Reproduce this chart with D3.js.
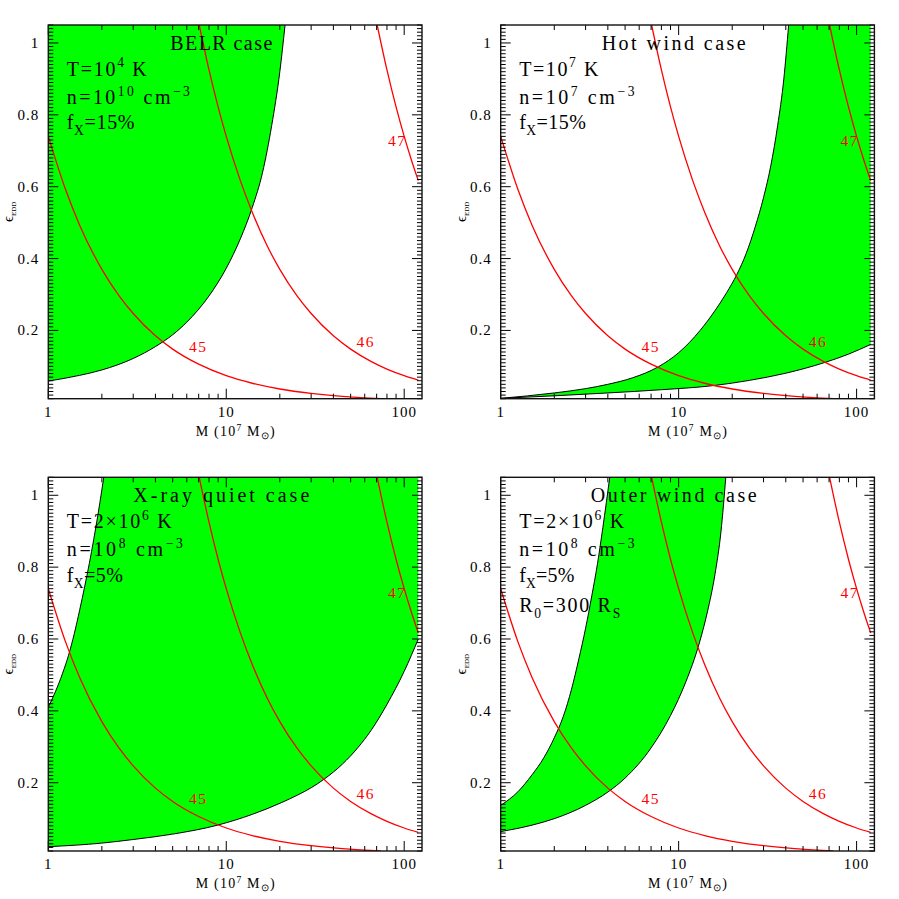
<!DOCTYPE html>
<html><head><meta charset="utf-8">
<script src="https://cdn.jsdelivr.net/npm/d3@7"></script>
<style>body{margin:0;background:#fff}svg{display:block}</style>
</head><body><svg id="c" width="899" height="899"></svg>
<script>
// ---------- data ----------
const massDomain = [1, 125.9];          // M (10^7 Msun)
const eddDomain = [0.01, 1.05];         // epsilon_EDD
const xMajorTicks = [1, 10, 100];
const xTickLabels = ["1", "10", "100"];
const yMajorTicks = [0.2, 0.4, 0.6, 0.8, 1.0];
const yTickLabels = ["0.2", "0.4", "0.6", "0.8", "1"];

const panelTitles = ["BELR case", "Hot wind case", "X-ray quiet case", "Outer wind case"];
// segments: [text, kind] kind: "" normal, "sup", "sub"
const panelInfo = [
  [[["T=10",""],["4","sup"],[" K",""]],
   [["n=10",""],["10","sup"],[" cm",""],["\u22123","sup"]],
   [["f",""],["X","sub"],["=15%",""]]],
  [[["T=10",""],["7","sup"],[" K",""]],
   [["n=10",""],["7","sup"],[" cm",""],["\u22123","sup"]],
   [["f",""],["X","sub"],["=15%",""]]],
  [[["T=2\u00d710",""],["6","sup"],[" K",""]],
   [["n=10",""],["8","sup"],[" cm",""],["\u22123","sup"]],
   [["f",""],["X","sub"],["=5%",""]]],
  [[["T=2\u00d710",""],["6","sup"],[" K",""]],
   [["n=10",""],["8","sup"],[" cm",""],["\u22123","sup"]],
   [["f",""],["X","sub"],["=5%",""]],
   [["R",""],["0","sub"],["=300 R",""],["S","sub"]]]
];

// constant-luminosity curves, log L = 45, 46, 47
const lumNames = ["45", "46", "47"];
const lum45 = [[1,0.74],[1.25,0.592],[1.5,0.493],[2,0.37],[2.5,0.296],[3,0.247],[4,0.185],[5,0.148],[7,0.106],[10,0.074],[14,0.053],[20,0.037],[30,0.0247],[45,0.0164],[60,0.0123],[74,0.01]];
const lum46 = [[7.05,1.05],[8,0.925],[9,0.822],[10,0.74],[12,0.617],[14,0.529],[17,0.435],[20,0.37],[25,0.296],[30,0.247],[40,0.185],[50,0.148],[65,0.114],[80,0.0925],[100,0.074],[120,0.0617]];
const lum47 = [[70.5,1.05],[80,0.925],[90,0.822],[100,0.74],[110,0.673],[120,0.617]];
const lumLabelAt = [[6.9,0.155],[60.2,0.169],[90.6,0.727]];

// allowed-region boundaries
const belrEdge = [[1,0.059],[1.5,0.075],[2,0.09],[3,0.122],[4,0.155],[5,0.188],[6,0.223],[8,0.296],[10,0.373],[12,0.455],[14,0.542],[16,0.64],[18,0.77],[20,0.92],[21.4,1.05]];
const hotUpper = [[1,0.011],[2,0.026],[3,0.038],[4,0.05],[5.5,0.068],[7.7,0.099],[10,0.138],[13.2,0.2],[16,0.255],[18.6,0.305],[21.2,0.355],[24,0.415],[27,0.49],[30,0.57],[33,0.66],[36,0.77],[39,0.9],[41.5,1.05]];
const hotLower = [[1,0.011],[2,0.018],[4,0.026],[8,0.035],[16,0.047],[25,0.061],[40,0.081],[66.4,0.111],[90,0.134],[120,0.161]];
const xrayLeft = [[1,0.41],[1.1,0.455],[1.2,0.503],[1.3,0.555],[1.4,0.615],[1.5,0.68],[1.6,0.745],[1.7,0.81],[1.8,0.877],[1.9,0.945],[2.0,1.015],[2.05,1.05]];
const xrayLower = [[1,0.022],[2,0.032],[3,0.042],[5,0.057],[8.94,0.082],[14,0.112],[20.5,0.145],[25,0.165],[30,0.186],[35.5,0.21],[45,0.252],[55,0.298],[65,0.345],[80,0.418],[100,0.51],[120,0.6]];
const outerLeft = [[1,0.137],[1.25,0.175],[1.5,0.222],[1.75,0.27],[2,0.325],[2.25,0.385],[2.5,0.46],[2.75,0.545],[3,0.63],[3.25,0.72],[3.5,0.81],[3.75,0.91],[4.1,1.05]];
const outerRight = [[1,0.064],[1.5,0.082],[2,0.1],[3,0.137],[4,0.174],[5,0.213],[7,0.297],[9,0.387],[11,0.482],[13,0.585],[14.5,0.675],[16,0.78],[17.3,0.9],[18.4,1.05]];

// ---------- layout ----------
const W = 373.7, H = 373.7;
const origins = [[48.3,25],[500.7,25],[48.3,477.3],[500.7,477.3]];
const titleLen = [102,144,176,166];
const infoLen = [[80,123,67.7],[79.3,115.3,66.7],[105,116,56],[105,115.3,55.3,101]];
const SERIF = "'Liberation Serif','Times New Roman',serif";
const GREEN = "#00ff00", RED = "#ff0000";

const svg = d3.select("#c");

function drawRich(g, segs, x, y, size, len) {
  const t = g.append("text").attr("x", x).attr("y", y)
    .attr("font-family", SERIF).attr("font-size", size).attr("fill", "#000");
  let shift = 0;
  segs.forEach(([s, k]) => {
    const sp = t.append("tspan").text(s);
    let target = 0;
    if (k === "sup") { target = -0.42*size; sp.attr("font-size", size*0.68); }
    if (k === "sub") { target = 0.3*size; sp.attr("font-size", size*0.68); }
    sp.attr("dy", target - shift); shift = target;
  });
  if (len) t.attr("textLength", len).attr("lengthAdjust", "spacing");
  return t;
}

origins.forEach(([ox, oy], p) => {
  const g = svg.append("g").attr("transform", `translate(${ox},${oy})`);
  const x = d3.scaleLog().domain(massDomain).range([0, W]);
  const y = d3.scaleLinear().domain(eddDomain).range([H, 0]);
  const clipId = "clip" + p;
  g.append("clipPath").attr("id", clipId).append("rect").attr("width", W).attr("height", H);
  const plot = g.append("g").attr("clip-path", `url(#${clipId})`);

  const line = d3.line().x(d => x(d[0])).y(d => y(d[1])).curve(d3.curveMonotoneX);
  const rev = pts => line(pts.slice().reverse()).replace(/^M/, "L");
  const P = (m, e) => `L${x(m)},${y(e)}`;
  const top = eddDomain[1], xr = 120;

  // green allowed region
  let fillD, edges;
  if (p === 0) {
    fillD = line(belrEdge) + P(1, top) + "Z"; edges = [belrEdge];
  } else if (p === 1) {
    fillD = line(hotUpper) + P(xr, top) + P(xr, hotLower[hotLower.length-1][1]) + rev(hotLower) + "Z";
    edges = [hotUpper, hotLower];
  } else if (p === 2) {
    fillD = line(xrayLeft) + P(xr, top) + P(xr, xrayLower[xrayLower.length-1][1]) + rev(xrayLower) + "Z";
    edges = [xrayLeft, xrayLower];
  } else {
    fillD = line(outerLeft) + P(outerRight[outerRight.length-1][0], top) + rev(outerRight) + "Z";
    edges = [outerLeft, outerRight];
  }
  plot.append("path").attr("d", fillD).attr("fill", GREEN).attr("stroke", "none");
  edges.forEach(e => plot.append("path").attr("d", line(e)).attr("fill", "none")
    .attr("stroke", "#000").attr("stroke-width", 1));

  // luminosity curves
  [lum45, lum46, lum47].forEach(c => plot.append("path").attr("d", line(c))
    .attr("fill", "none").attr("stroke", RED).attr("stroke-width", 1.3));
  lumNames.forEach((n, i) => g.append("text").attr("x", x(lumLabelAt[i][0])).attr("y", y(lumLabelAt[i][1]) + 5)
    .attr("text-anchor", "middle").attr("font-family", SERIF).attr("font-size", 15.5)
    .attr("fill", RED).attr("textLength", 17).attr("lengthAdjust", "spacing").text(n));

  // ticks
  const tk = g.append("g").attr("stroke", "#000").attr("stroke-width", 1);
  const xMinor = [];
  [1, 10, 100].forEach(d => { for (let k = 2; k <= 9; k++) if (d*k <= massDomain[1]) xMinor.push(d*k); });
  xMajorTicks.forEach(v => {
    tk.append("line").attr("x1", x(v)).attr("x2", x(v)).attr("y1", H).attr("y2", H-10);
    tk.append("line").attr("x1", x(v)).attr("x2", x(v)).attr("y1", 0).attr("y2", 10);
  });
  xMinor.forEach(v => {
    tk.append("line").attr("x1", x(v)).attr("x2", x(v)).attr("y1", H).attr("y2", H-5);
    tk.append("line").attr("x1", x(v)).attr("x2", x(v)).attr("y1", 0).attr("y2", 5);
  });
  const yMinor = d3.range(1, 106).map(i => i/100).filter(v => !yMajorTicks.some(m => Math.abs(m-v) < 1e-6));
  yMinor.forEach(v => {
    tk.append("line").attr("x1", 0).attr("x2", 5).attr("y1", y(v)).attr("y2", y(v));
    tk.append("line").attr("x1", W).attr("x2", W-5).attr("y1", y(v)).attr("y2", y(v));
  });
  yMajorTicks.forEach(v => {
    tk.append("line").attr("x1", 0).attr("x2", 10).attr("y1", y(v)).attr("y2", y(v));
    tk.append("line").attr("x1", W).attr("x2", W-10).attr("y1", y(v)).attr("y2", y(v));
  });
  g.append("rect").attr("width", W).attr("height", H).attr("fill", "none")
    .attr("stroke", "#111").attr("stroke-width", 1.4);

  // tick labels
  xMajorTicks.forEach((v, i) => g.append("text").attr("x", x(v)).attr("y", H + 18)
    .attr("text-anchor", "middle").attr("font-family", SERIF).attr("font-size", 15)
    .attr("letter-spacing", 1).text(xTickLabels[i]));
  yMajorTicks.forEach((v, i) => g.append("text").attr("x", -9).attr("y", y(v) + 5)
    .attr("text-anchor", "end").attr("font-family", SERIF).attr("font-size", 15)
    .attr("letter-spacing", 1).text(yTickLabels[i]));

  // axis titles
  const xl = g.append("text").attr("x", W/2).attr("y", H + 37.5).attr("text-anchor", "middle")
    .attr("font-family", SERIF).attr("font-size", 14).attr("textLength", 79).attr("lengthAdjust", "spacing");
  xl.append("tspan").text("M (10");
  xl.append("tspan").text("7").attr("font-size", 9.5).attr("dy", -5);
  xl.append("tspan").text(" M").attr("dy", 5);
  xl.append("tspan").text("\u2299").attr("font-size", 9.5).attr("dy", 3);
  xl.append("tspan").text(")").attr("dy", -3);

  const yl = g.append("text").attr("transform", `translate(${-35},${H/2}) rotate(-90)`)
    .attr("text-anchor", "middle").attr("font-family", SERIF).attr("font-size", 15);
  yl.append("tspan").text("\u03f5");
  yl.append("tspan").text("EDD").attr("font-size", 7).attr("dy", 3);

  // annotations
  g.append("text").attr("x", 173).attr("y", 24.5).attr("text-anchor", "middle")
    .attr("font-family", SERIF).attr("font-size", 20).attr("textLength", titleLen[p])
    .attr("lengthAdjust", "spacing").text(panelTitles[p]);
  const lineY = [50.8, 79, 104.4, 134.4];
  panelInfo[p].forEach((segs, i) => drawRich(g, segs, 18.5, lineY[i], 20, infoLen[p][i]));
});
</script></body></html>
